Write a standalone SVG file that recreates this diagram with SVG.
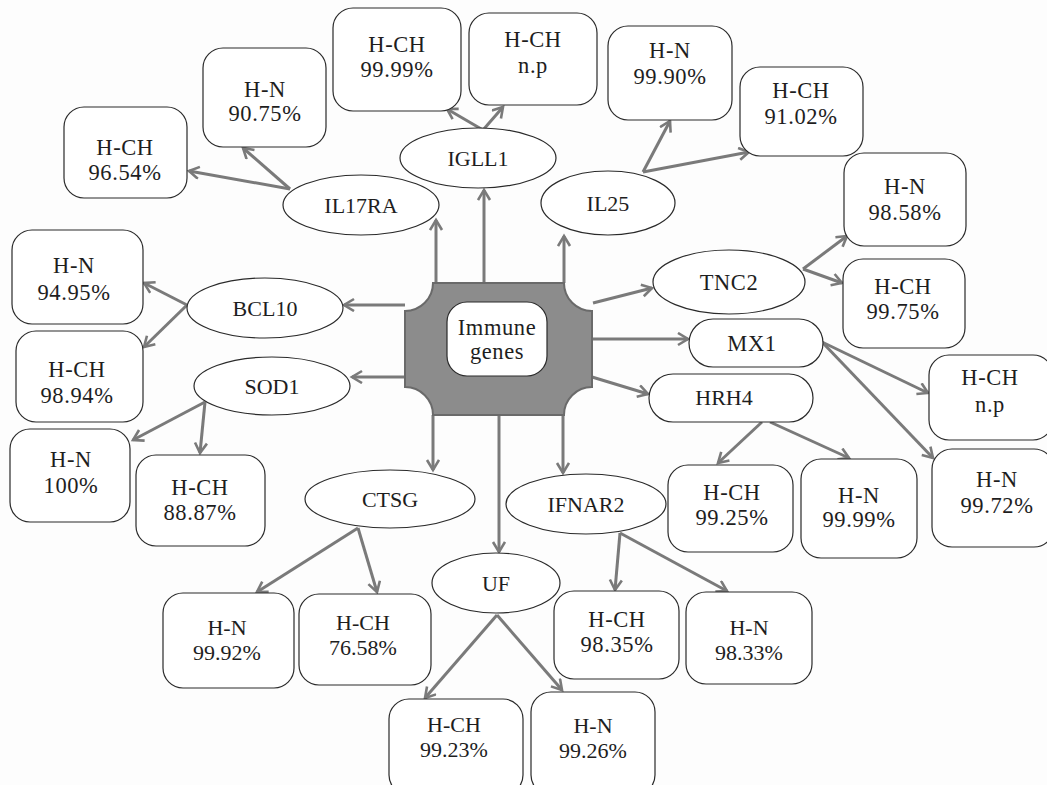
<svg xmlns="http://www.w3.org/2000/svg" width="1047" height="785" viewBox="0 0 1047 785">
<defs>
<style>
.bg{fill:#fdfdfd}
.box{fill:#fff;stroke:#2a2a2a;stroke-width:1.2}
.ell{fill:#fff;stroke:#2a2a2a;stroke-width:1.2}
.t{font-family:"Liberation Serif","Times New Roman",serif;font-size:22.5px;fill:#1e1e1e;text-anchor:middle;letter-spacing:0.6px}
.g{font-family:"Liberation Serif","Times New Roman",serif;font-size:22px;fill:#1e1e1e;text-anchor:middle}
.c{fill:none;stroke:#7a7a7a;stroke-width:3;marker-end:url(#ah)}
.hub{fill:#8c8c8c;stroke:#6a6a6a;stroke-width:2}
</style>
<marker id="ah" markerUnits="userSpaceOnUse" markerWidth="16" markerHeight="16" refX="11" refY="7" orient="auto">
<path d="M1,1 L11,7 L1,13" fill="none" stroke="#7a7a7a" stroke-width="2.6"/>
</marker>
</defs>
<rect class="bg" x="0" y="0" width="1047" height="785"/>

<g id="connectors">
<line class="c" x1="436" y1="283" x2="436" y2="220"/>
<line class="c" x1="484" y1="283" x2="484" y2="190"/>
<line class="c" x1="564" y1="283" x2="564" y2="236"/>
<line class="c" x1="593" y1="303" x2="652" y2="288"/>
<line class="c" x1="592" y1="339" x2="688" y2="339"/>
<line class="c" x1="592" y1="377" x2="648" y2="394"/>
<line class="c" x1="563" y1="415" x2="563" y2="473"/>
<line class="c" x1="499" y1="415" x2="499" y2="552"/>
<line class="c" x1="433" y1="415" x2="433" y2="470"/>
<line class="c" x1="405" y1="377" x2="352" y2="377"/>
<line class="c" x1="405" y1="305" x2="344" y2="305"/>
<line class="c" x1="290" y1="189" x2="189" y2="171"/>
<line class="c" x1="290" y1="189" x2="243" y2="148"/>
<line class="c" x1="483" y1="130" x2="447" y2="109"/>
<line class="c" x1="483" y1="130" x2="503" y2="107"/>
<line class="c" x1="643" y1="172" x2="670" y2="121"/>
<line class="c" x1="643" y1="172" x2="749" y2="152"/>
<line class="c" x1="803" y1="269" x2="847" y2="236"/>
<line class="c" x1="803" y1="269" x2="842" y2="283"/>
<line class="c" x1="822" y1="342" x2="928" y2="393"/>
<line class="c" x1="822" y1="342" x2="933" y2="458"/>
<line class="c" x1="762" y1="422" x2="718" y2="463"/>
<line class="c" x1="770" y1="422" x2="849" y2="458"/>
<line class="c" x1="620" y1="533" x2="615" y2="590"/>
<line class="c" x1="620" y1="533" x2="727" y2="591"/>
<line class="c" x1="497" y1="615" x2="425" y2="698"/>
<line class="c" x1="497" y1="615" x2="562" y2="690"/>
<line class="c" x1="358" y1="528" x2="257" y2="592"/>
<line class="c" x1="358" y1="528" x2="377" y2="592"/>
<line class="c" x1="205" y1="402" x2="133" y2="440"/>
<line class="c" x1="205" y1="402" x2="200" y2="453"/>
<line class="c" x1="187" y1="305" x2="144" y2="283"/>
<line class="c" x1="187" y1="305" x2="144" y2="347"/>
</g>

<g id="hub">
<path class="hub" d="M433,283 L564,283 A28,28 0 0 0 592,311 L592,387 A28,28 0 0 0 564,415 L433,415 A28,28 0 0 0 405,387 L405,311 A28,28 0 0 0 433,283 Z"/>
<rect class="box" x="447" y="302" width="100" height="74" rx="20"/>
<text class="t" x="497" y="335">Immune</text>
<text class="t" x="497" y="359">genes</text>
</g>

<g id="IL17RA"><ellipse class="ell" cx="361" cy="205" rx="78" ry="30"/><text class="g" x="361" y="213">IL17RA</text></g>
<g id="IGLL1"><ellipse class="ell" cx="478" cy="158" rx="78" ry="30"/><text class="g" x="478" y="166">IGLL1</text></g>
<g id="IL25"><ellipse class="ell" cx="608" cy="203" rx="67" ry="32"/><text class="g" x="608" y="211">IL25</text></g>
<g id="TNC2"><ellipse class="ell" cx="729" cy="282" rx="76" ry="32"/><text class="t" x="729" y="290">TNC2</text></g>
<g id="MX1"><rect class="box" x="689" y="319" width="134" height="48" rx="24"/><text class="t" x="752" y="351">MX1</text></g>
<g id="HRH4"><rect class="box" x="649" y="374" width="164" height="48" rx="24"/><text class="g" x="724" y="405">HRH4</text></g>
<g id="BCL10"><ellipse class="ell" cx="265" cy="308" rx="78" ry="30"/><text class="g" x="265" y="316">BCL10</text></g>
<g id="SOD1"><ellipse class="ell" cx="272" cy="386" rx="78" ry="29"/><text class="g" x="272" y="394">SOD1</text></g>
<g id="CTSG"><ellipse class="ell" cx="390" cy="499" rx="85" ry="29"/><text class="g" x="390" y="507">CTSG</text></g>
<g id="IFNAR2"><ellipse class="ell" cx="586" cy="504" rx="80" ry="30"/><text class="g" x="586" y="512">IFNAR2</text></g>
<g id="UF"><ellipse class="ell" cx="496" cy="583" rx="64" ry="30"/><text class="g" x="496" y="591">UF</text></g>

<g id="b1"><rect class="box" x="64" y="107" width="123" height="91" rx="20"/><text class="t" x="125" y="155">H-CH</text><text class="t" x="125" y="180">96.54%</text></g>
<g id="b2"><rect class="box" x="203" y="48" width="123" height="99" rx="20"/><text class="t" x="265" y="97">H-N</text><text class="t" x="265" y="121">90.75%</text></g>
<g id="b3"><rect class="box" x="333" y="8" width="128" height="103" rx="20"/><text class="t" x="397" y="52">H-CH</text><text class="t" x="397" y="77">99.99%</text></g>
<g id="b4"><rect class="box" x="469" y="13" width="128" height="92" rx="20"/><text class="t" x="533" y="47">H-CH</text><text class="t" x="533" y="73">n.p</text></g>
<g id="b5"><rect class="box" x="608" y="26" width="124" height="94" rx="20"/><text class="t" x="670" y="58">H-N</text><text class="t" x="670" y="84">99.90%</text></g>
<g id="b6"><rect class="box" x="740" y="67" width="123" height="89" rx="20"/><text class="t" x="801" y="98">H-CH</text><text class="t" x="801" y="124">91.02%</text></g>
<g id="b7"><rect class="box" x="844" y="153" width="122" height="93" rx="20"/><text class="t" x="905" y="194">H-N</text><text class="t" x="905" y="220">98.58%</text></g>
<g id="b8"><rect class="box" x="843" y="259" width="122" height="89" rx="20"/><text class="t" x="903" y="294">H-CH</text><text class="t" x="903" y="319">99.75%</text></g>
<g id="b9"><rect class="box" x="929" y="355" width="124" height="85" rx="20"/><text class="t" x="990" y="385">H-CH</text><text class="t" x="990" y="412">n.p</text></g>
<g id="b10"><rect class="box" x="932" y="449" width="122" height="98" rx="20"/><text class="t" x="997" y="487">H-N</text><text class="t" x="997" y="513">99.72%</text></g>
<g id="b11"><rect class="box" x="668" y="465" width="125" height="87" rx="20"/><text class="t" x="732" y="500">H-CH</text><text class="t" x="732" y="525">99.25%</text></g>
<g id="b12"><rect class="box" x="801" y="459" width="116" height="99" rx="20"/><text class="t" x="859" y="503">H-N</text><text class="t" x="859" y="527">99.99%</text></g>
<g id="b13"><rect class="box" x="12" y="230" width="131" height="94" rx="20"/><text class="t" x="74" y="273">H-N</text><text class="t" x="74" y="300">94.95%</text></g>
<g id="b14"><rect class="box" x="16" y="331" width="127" height="91" rx="20"/><text class="t" x="77" y="377">H-CH</text><text class="t" x="77" y="403">98.94%</text></g>
<g id="b15"><rect class="box" x="10" y="429" width="120" height="93" rx="20"/><text class="t" x="71" y="467">H-N</text><text class="t" x="71" y="493">100%</text></g>
<g id="b16"><rect class="box" x="136" y="455" width="129" height="91" rx="20"/><text class="t" x="200" y="495">H-CH</text><text class="t" x="200" y="520">88.87%</text></g>
<g id="b17"><rect class="box" x="163" y="593" width="131" height="95" rx="20"/><text class="g" x="227" y="635">H-N</text><text class="g" x="227" y="660">99.92%</text></g>
<g id="b18"><rect class="box" x="299" y="594" width="132" height="91" rx="20"/><text class="g" x="363" y="630">H-CH</text><text class="g" x="363" y="655">76.58%</text></g>
<g id="b19"><rect class="box" x="389" y="699" width="134" height="96" rx="20"/><text class="g" x="454" y="732">H-CH</text><text class="g" x="454" y="757">99.23%</text></g>
<g id="b20"><rect class="box" x="531" y="692" width="124" height="103" rx="20"/><text class="g" x="593" y="733">H-N</text><text class="g" x="593" y="758">99.26%</text></g>
<g id="b21"><rect class="box" x="554" y="591" width="125" height="88" rx="20"/><text class="t" x="617" y="627">H-CH</text><text class="t" x="617" y="652">98.35%</text></g>
<g id="b22"><rect class="box" x="686" y="592" width="126" height="92" rx="20"/><text class="g" x="749" y="635">H-N</text><text class="g" x="749" y="660">98.33%</text></g>
</svg>
